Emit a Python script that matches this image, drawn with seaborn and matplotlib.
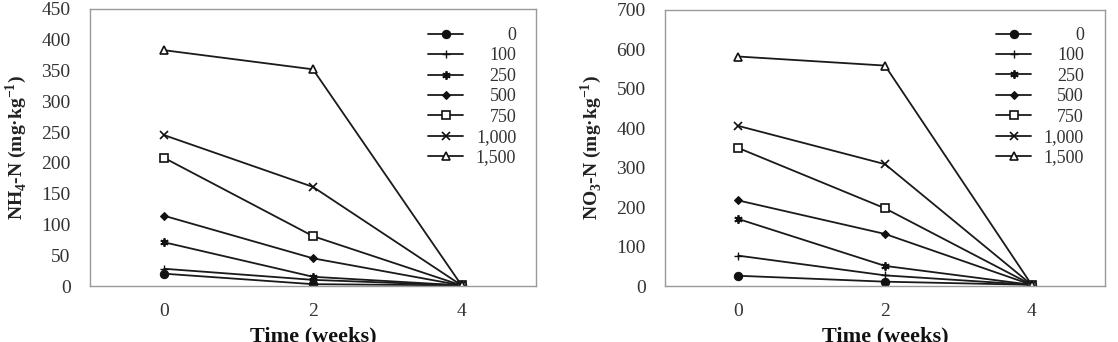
import numpy as np
import pandas as pd
import matplotlib
matplotlib.use("Agg")
import matplotlib.pyplot as plt
import seaborn as sns

weeks = [0, 2, 4]
rates = ["0", "100", "250", "500", "750", "1,000", "1,500"]
nh4_0 = [20, 3, 1]
nh4_100 = [28, 10, 1]
nh4_250 = [71, 15, 1]
nh4_500 = [114, 45, 1]
nh4_750 = [208, 81, 1]
nh4_1000 = [245, 161, 1]
nh4_1500 = [383, 352, 1]
no3_0 = [26, 11, 3]
no3_100 = [77, 27, 3]
no3_250 = [170, 51, 3]
no3_500 = [217, 132, 3]
no3_750 = [350, 197, 3]
no3_1000 = [406, 309, 3]
no3_1500 = [582, 559, 3]

nh4 = [nh4_0, nh4_100, nh4_250, nh4_500, nh4_750, nh4_1000, nh4_1500]
no3 = [no3_0, no3_100, no3_250, no3_500, no3_750, no3_1000, no3_1500]

sns.set_theme(style="white")
plt.rcParams['font.family'] = ['Liberation Serif', 'DejaVu Serif']
plt.rcParams['mathtext.fontset'] = 'custom'
plt.rcParams['mathtext.rm'] = 'Liberation Serif'
plt.rcParams['mathtext.bf'] = 'Liberation Serif:bold'

styles = [
    dict(marker='o', markersize=6, markerfacecolor='#111111'),
    dict(marker='+', markersize=6, markeredgewidth=1.0),
    dict(marker=(6, 2, 0), markersize=6, markeredgewidth=1.3),
    dict(marker='D', markersize=4.5, markerfacecolor='#111111'),
    dict(marker='s', markersize=5.5, markerfacecolor='white', markeredgewidth=1.2),
    dict(marker='x', markersize=5.5, markeredgewidth=1.2),
    dict(marker='^', markersize=6, markerfacecolor='white', markeredgewidth=1.2),
]

fig = plt.figure(figsize=(11.18, 3.42), dpi=100)
ax1 = fig.add_axes([0.0805, 0.1637, 0.3989, 0.8100])
ax2 = fig.add_axes([0.5948, 0.1637, 0.3936, 0.8071])

def draw(ax, series, ymax, ystep, ylabel, lx, ly):
    for name, vals, st in zip(rates, series, styles):
        df = pd.DataFrame({"week": weeks, "value": vals})
        sns.lineplot(data=df, x="week", y="value", ax=ax, color='#1a1a1a',
                     linewidth=1.3, markeredgecolor='#111111', label=name, **st)
    ax.set_xlim(-1, 5)
    ax.set_ylim(0, ymax)
    ax.set_xticks([0, 2, 4])
    ax.set_yticks(np.arange(0, ymax + 1, ystep))
    ax.tick_params(axis='both', length=0, labelsize=14, colors='#333333')
    ax.tick_params(axis='y', pad=14)
    ax.tick_params(axis='x', pad=12)
    for sp in ax.spines.values():
        sp.set_color('#999999')
        sp.set_linewidth(1.0)
    ax.set_xlabel("Time (weeks)", fontsize=16, fontweight='bold', labelpad=5,
                  color='#111111')
    ax.set_ylabel(ylabel, fontsize=14, fontweight='bold', labelpad=9,
                  color='#222222')
    leg = ax.legend(loc='upper left', bbox_to_anchor=(lx, ly), frameon=False,
                    fontsize=13, handlelength=1.95, handletextpad=0.7,
                    labelspacing=0.19, borderaxespad=0, borderpad=0)
    fig.canvas.draw()
    renderer = fig.canvas.get_renderer()
    widths = [t.get_window_extent(renderer).width for t in leg.get_texts()]
    shift = max(widths)
    for t, w in zip(leg.get_texts(), widths):
        t.set_position((shift - w, 0))
        t.set_color('#333333')

draw(ax1, nh4, 450, 50, r"NH$_\mathbf{4}$-N (mg·kg$^\mathbf{-1}$)", 0.758, 0.935)
draw(ax2, no3, 700, 100, r"NO$_\mathbf{3}$-N (mg·kg$^\mathbf{-1}$)", 0.752, 0.939)

fig.savefig("out.png", dpi=100)
